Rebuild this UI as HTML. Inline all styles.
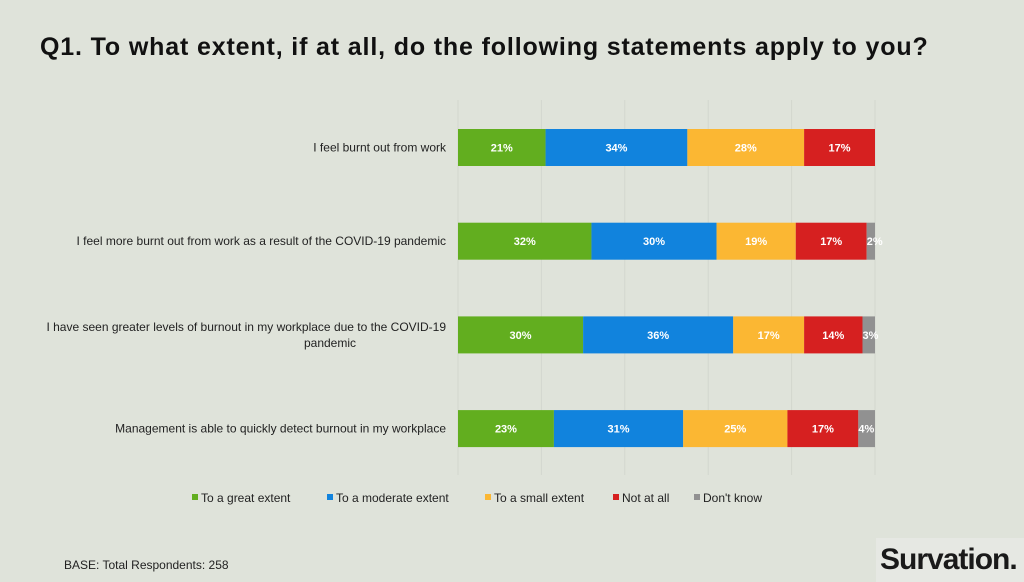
<!DOCTYPE html>
<html><head><meta charset="utf-8"><style>
body{margin:0;width:1024px;height:582px;background:#dfe3da;font-family:"Liberation Sans",sans-serif;overflow:hidden;position:relative}
.title{position:absolute;left:40px;top:33px;font-size:25px;letter-spacing:0.85px;font-weight:bold;color:#111;white-space:nowrap}
.base{position:absolute;left:64px;top:558px;font-size:12px;color:#222}
.logo{position:absolute;left:876px;top:538px;width:148px;height:44px;background:#e6e8e3;font-size:30px;font-weight:bold;color:#1a1a1a;letter-spacing:-1px;line-height:44px;padding-left:4px}
</style></head><body>
<div class="title">Q1. To what extent, if at all, do the following statements apply to you?</div>
<svg id="chart" width="1024" height="582" style="position:absolute;left:0;top:0"></svg>
<div class="base">BASE: Total Respondents: 258</div>
<div class="logo">Survation.</div>
<script>
const categories=[["I feel burnt out from work"],["I feel more burnt out from work as a result of the COVID-19 pandemic"],["I have seen greater levels of burnout in my workplace due to the COVID-19","pandemic"],["Management is able to quickly detect burnout in my workplace"]];
const seriesNames=["To a great extent","To a moderate extent","To a small extent","Not at all","Don't know"];
const great=[21,32,30,23];
const moderate=[34,30,36,31];
const small=[28,19,17,25];
const notAtAll=[17,17,14,17];
const dontKnow=[0,2,3,4];
const gridTicks=[0,20,40,60,80,100];
const series=[great,moderate,small,notAtAll,dontKnow];
const colors=["#62ae1f","#1183dd","#fbb733","#d62020","#919191"];
const ns="http://www.w3.org/2000/svg";
const svg=document.getElementById('chart');
const x0=458,x1=875;
const xs=v=>x0+(x1-x0)*v/100;
const ys=i=>129+i*93.7;
const bh=37;
function mk(t,a){const e=document.createElementNS(ns,t);for(const k in a)e.setAttribute(k,a[k]);svg.appendChild(e);return e;}
gridTicks.forEach(t=>{
 const l=mk('line',{x1:xs(t),x2:xs(t),y1:100,y2:475,stroke:'#d3d7ce','stroke-width':1});
 
 
});
categories.forEach((lines,i)=>{
 const y=ys(i);
 lines.forEach((ln,j)=>{
  const t=mk('text',{x:lines.length>1?(j==0?446:330):446,y:y+bh/2+4+(lines.length>1?(j*16-8):0),'text-anchor':lines.length>1&&j==1?'middle':'end','font-size':12,fill:'#222'});
  t.textContent=ln;
  
  
 });
 let acc=0;
 series.forEach((s,k)=>{
  const v=s[i];if(!v){return;}
  const r=mk('rect',{x:xs(acc),y:y,width:xs(acc+v)-xs(acc),height:bh,fill:colors[k]});
  
  
  const cx=k==4?xs(acc)+8:(xs(acc)+xs(acc+v))/2;
  const t=mk('text',{x:cx,y:y+bh/2+4,'text-anchor':'middle','font-size':11,'font-weight':'bold',fill:'#fff'});
  t.textContent=v+'%';
  
  
  acc+=v;
 });
});
let lx=192;
const lw=[135,158,128,81,80];
seriesNames.forEach((n,k)=>{
 const r=mk('rect',{x:lx,y:494,width:6,height:6,fill:colors[k]});
 
 
 const t=mk('text',{x:lx+9,y:502,'font-size':12,fill:'#222'});
 t.textContent=n;
 
 
 lx+=lw[k];
});
</script>
</body></html>
